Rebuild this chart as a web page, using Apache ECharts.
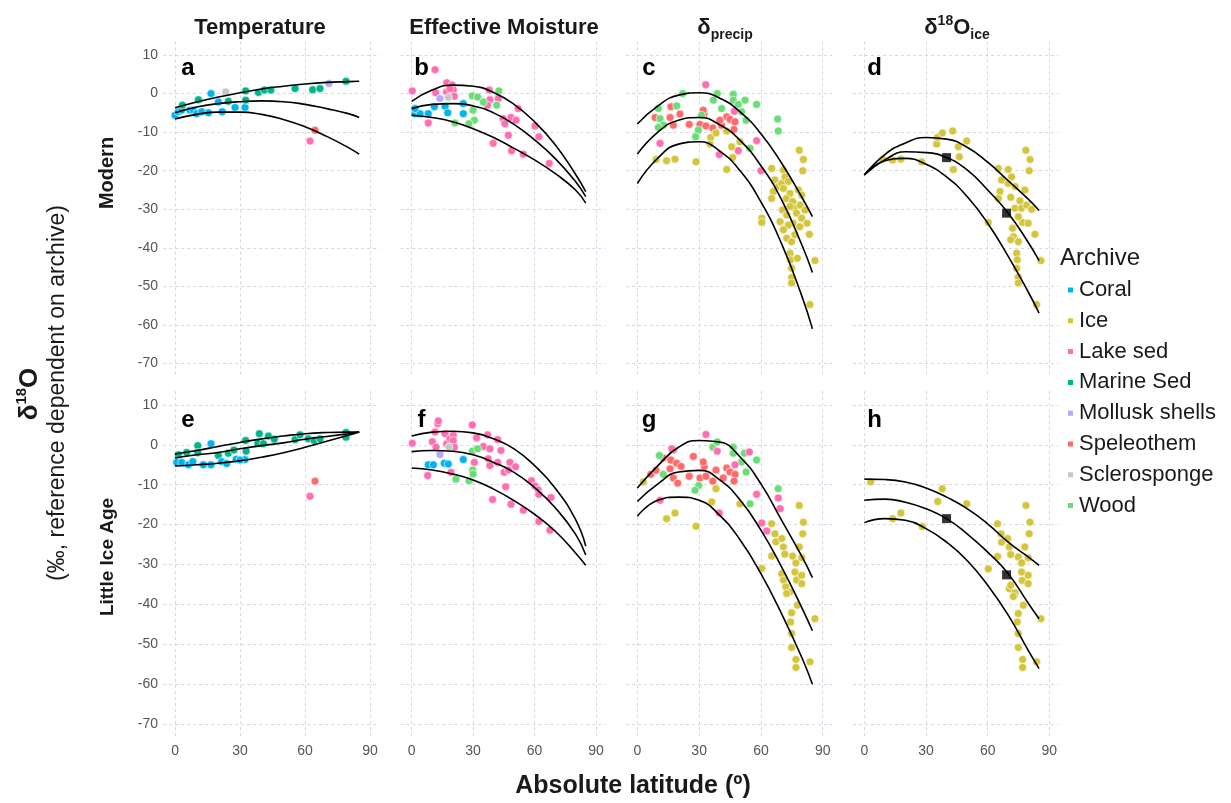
<!DOCTYPE html>
<html>
<head>
<meta charset="utf-8">
<script src="https://cdn.jsdelivr.net/npm/echarts@6/dist/echarts.min.js"></script>
<style>
html, body { margin: 0; padding: 0; background: #fff; }
#chart { width: 1231px; height: 803px; }
</style>
</head>
<body>
<div id="chart"></div>
<script>
// archives, in legend order, and their colours
const archives = ['Coral', 'Ice', 'Lake sed', 'Marine Sed', 'Mollusk shells', 'Speleothem', 'Sclerosponge', 'Wood'];
const archiveColors = ['#00b4f0', '#d4c63c', '#ff6eb0', '#00b48c', '#b9a6fa', '#ff6b6b', '#c6c6c6', '#6adc78'];

const panelLetters = ['a', 'b', 'c', 'd', 'e', 'f', 'g', 'h'];
const latTicks = [0, 30, 60, 90];
const d18OTicks = [-70, -60, -50, -40, -30, -20, -10, 0, 10];

const fitLat = [0, 10, 20, 30, 40, 50, 60, 70, 80, 85];

// a - Temperature, Modern
const ptsA = [
  ['Coral', [[0,-5.6],[1.5,-4.7],[3,-4.3],[6.9,-4.3],[8.5,-4.3],[10,-5.2],[12.3,-4.7],[15.4,-5],[16.6,0],[20,-2.2],[21.8,-4.7],[27.7,-3.6],[32.3,-3.6]]],
  ['Marine Sed', [[3.4,-3],[10.8,-1.6],[24.6,-2],[32.6,0.7],[32.6,-1.7],[38.5,0.3],[41.2,0.9],[44.2,0.9],[55.4,1.3],[63.5,1],[66.9,1.3],[78.9,3.2]]],
  ['Sclerosponge', [[23.4,0.4]]],
  ['Mollusk shells', [[71,2.6]]],
  ['Speleothem', [[64.6,-9.5]]],
  ['Lake sed', [[62.3,-12.3]]]
];
const fitA = [
  [-3.7,-2.2,-0.9,0.2,1.2,1.9,2.5,2.9,3.1,3.2],
  [-5.0,-3.5,-2.6,-2.1,-1.9,-2.1,-2.8,-3.9,-5.2,-6.2],
  [-6.6,-5.4,-4.8,-4.8,-5.4,-6.7,-8.6,-11.1,-14.0,-15.7]
];

// b - Effective Moisture, Modern
const ptsB = [
  ['Lake sed', [[11.4,6.2],[0.3,0.7],[11.7,0.2],[17.1,2.8],[19.8,2.2],[17,0.4],[20.3,1.0],[20.8,-0.7],[18.7,1.3],[8.1,-7.6],[37.9,0.9],[38.2,-1.6],[37,-3],[42.3,-1.3],[39.8,-12.9],[44.7,-6.5],[48.5,-6.2],[51,-6.9],[52,-3.9],[47.2,-10.8],[48.8,-14.8],[54.5,-15.7],[60.2,-8.4],[62.1,-11.2],[67.2,-18.1],[45.5,-7.8]]],
  ['Coral', [[1.6,-5.2],[4.1,-5.2],[8.1,-5.2],[11.1,-3.4],[16.3,-3.3],[17.6,-5],[25.2,-2.6],[25.2,-5.2],[1.6,-3.9]]],
  ['Mollusk shells', [[13.8,-1.3]]],
  ['Sclerosponge', [[17.9,-1.0]]],
  ['Wood', [[29.6,-0.6],[32.2,-0.9],[35,-2.2],[42.6,0.7],[41.5,-3],[30.6,-6.9],[28,-7.8],[21.1,-7.6],[30,-4.3]]]
];
const fitB = [
  [-2.0,0.9,2.2,1.9,0.3,-2.8,-7.3,-13.2,-20.9,-25.4],
  [-3.9,-2.8,-2.6,-3.2,-5.0,-8.0,-12.0,-16.8,-22.8,-26.7],
  [-5.6,-6.2,-7.3,-9.1,-11.4,-14.2,-17.2,-20.7,-25.0,-28.4]
];

// c - delta precip, Modern
const ptsC = [
  ['Speleothem', [[8.6,-6.2],[16.3,-3.4],[15.9,-6.2],[17.5,-8.2],[20.7,-5.3],[25.2,-8],[30.4,-8],[32.4,-5.3],[32,-4.3],[33.3,-8.4],[36.6,-8.9],[40.9,-8.2],[43.4,-6],[45,-6.7],[47.4,-7.3],[46.9,-9.3],[40.1,-6.9]]],
  ['Wood', [[10.2,-3.9],[11,-6.5],[12.6,-8.2],[10.2,-8.8],[19.1,-3.2],[22,0],[38.8,0],[36.9,-1.7],[40.9,-3.9],[46.6,-0.2],[46.6,-1.7],[49,-2.8],[52.3,-1.7],[57.9,-2.8],[52.8,-6.9],[50.6,-4.7],[54.7,-14.2],[68.1,-6.6],[68.4,-9.7],[29.6,-9.5],[28.3,-11.2],[31.2,-5.6]]],
  ['Lake sed', [[33.2,2.3],[47.1,-4.6],[11,-12.9],[39.8,-15.8],[49,-14.8],[57.9,-12.2],[60,-20]]],
  ['Ice', [[9.1,-17.1],[14.2,-17.4],[18.3,-17],[28.5,-17.7],[35.6,-11.4],[38.2,-10.2],[43.4,-9.7],[45.8,-13.8],[46.3,-16.6],[43.4,-19.7],[35.3,-13.1],[49.8,-12.5],[60.4,-32.3],[60.4,-33.4],[65.2,-19.4],[66.8,-22.4],[66,-25.4],[65.2,-27.2],[68.4,-24.1],[70.1,-23.3],[70.9,-19.8],[71.7,-21.6],[73.3,-22.8],[70.9,-24.6],[74.1,-25.9],[72.3,-27.2],[75.4,-28],[70.5,-30.2],[72.5,-31.5],[76.5,-29.7],[78.2,-25],[79.8,-26.3],[79,-28.9],[81.4,-30.2],[77.3,-31],[79.8,-32.3],[82.4,-33.6],[75.7,-33.6],[73.3,-34.1],[70.9,-35.3],[72.5,-37.5],[74.9,-38.4],[76.5,-36.6],[78.9,-34.5],[83.5,-36.5],[78.6,-14.7],[80.6,-17.1],[80.3,-20],[86.2,-43.3],[74.1,-41.4],[74.4,-43.1],[74.9,-45.3],[74.9,-47.7],[74.9,-49.1],[83.8,-54.7],[77.7,-42.7],[69.3,-33.2],[74.1,-29.3]]]
];
const fitC = [
  [-7.9,-3.2,-0.4,0.2,-1.2,-4.8,-10.4,-18.0,-27.0,-31.9],
  [-15.7,-10.0,-6.9,-6.2,-8.1,-12.2,-18.7,-27.5,-39.4,-46.4],
  [-23.3,-16.7,-13.1,-12.5,-14.9,-20.1,-28.1,-38.9,-52.7,-61.0]
];

// d - delta18O ice, Modern
const ptsD = [
  ['Ice', [[8.9,-17],[13.8,-17.2],[17.8,-17],[27.9,-17.7],[35.2,-13.1],[35.5,-11.4],[38,-10.2],[43,-9.7],[45.7,-13.8],[46.2,-16.4],[43.3,-19.7],[49.8,-12.3],[60.3,-33.4],[65.2,-19.4],[66.8,-22.4],[66,-25.4],[65.2,-27.2],[70,-19.7],[71.6,-21.6],[70,-23.3],[73.3,-24.1],[71.2,-26.9],[75.7,-27.8],[73.3,-29.7],[76.5,-29.7],[79,-28.9],[81.4,-30],[78.1,-25],[77,-33.4],[79.7,-33.6],[74.9,-31.9],[72.1,-34.9],[72.5,-37.1],[74.9,-38.4],[71.2,-37.9],[83,-36.5],[78.6,-14.7],[80.6,-17.1],[80.2,-20],[85.9,-43.3],[74.1,-41.4],[74.4,-43.1],[74.9,-47.6],[74.9,-49.1],[83.8,-54.7],[74.1,-45.3]]]
];
const fitD = [
  [-21.1,-15.8,-12.8,-11.4,-11.8,-13.9,-17.8,-22.6,-27.5,-30.3],
  [-21.1,-17.2,-15.1,-15.3,-16.6,-19.8,-25.0,-31.0,-38.8,-43.3],
  [-21.1,-17.4,-16.8,-18.3,-21.6,-26.7,-33.6,-42.2,-51.7,-56.9]
];
const squaresD = [[40,-16.6],[69.2,-31]];

// e - Temperature, Little Ice Age
const ptsE = [
  ['Marine Sed', [[1.5,-2.5],[5.4,-1.9],[10.5,-0.2],[10.5,-1.9],[20,-2.7],[24.6,-2.1],[27.2,-1.3],[32.6,1.1],[32.8,-1.6],[38.2,0.4],[38.9,2.8],[40.8,0.3],[43.1,2.2],[45.8,1.4],[55.4,1.3],[57.7,2.5],[61.5,1.5],[64.2,1.1],[66.9,1.5],[78.9,3.1],[78.9,1.9]]],
  ['Coral', [[0.8,-4.4],[3.1,-4.4],[6.2,-5],[8.2,-4.2],[13.1,-5],[16.6,-5],[16.6,0.3],[21.5,-4.2],[23.8,-4.7],[28.2,-3.6],[32.3,-3.7],[30,-3.8]]],
  ['Speleothem', [[64.6,-9.1]]],
  ['Lake sed', [[62.3,-12.9]]]
];
const fitE = [
  [-2.3,-1.4,-0.4,0.6,1.5,2.2,2.8,3.1,3.2,3.2],
  [-3.3,-2.5,-1.9,-1.0,-0.2,0.5,1.4,2.1,2.8,3.2],
  [-5.3,-5.0,-4.6,-4.0,-3.1,-2.0,-0.6,0.9,2.4,3.2]
];

// f - Effective Moisture, Little Ice Age
const ptsF = [
  ['Lake sed', [[0.3,0.4],[7.8,-7.7],[10.1,0.8],[11.4,3.2],[12.7,5.3],[13,6],[16.3,2.8],[17.1,0.3],[18.7,1.5],[20.3,2.4],[20.3,1.1],[20.8,-0.6],[19.2,-6.9],[11.9,-0.6],[29.6,5],[31.7,1.8],[35,-0.4],[37.1,2.5],[38.2,-1],[37.4,-3.5],[38.2,-5.2],[42,1.3],[42,-4.4],[43.6,-1.4],[30.6,-4.4],[48,-4.4],[50.7,-5.5],[45.2,-6.9],[47.2,-6.3],[45.9,-10.5],[39.5,-13.7],[48.5,-14.9],[54.5,-16.4],[58.5,-9],[60.2,-10.3],[61.8,-11.3],[62.1,-12.4],[68,-13.2],[62.1,-19.2],[67.5,-21.4]]],
  ['Mollusk shells', [[13.8,-2.4]]],
  ['Sclerosponge', [[18.2,-0.6]]],
  ['Coral', [[8.1,-5],[10.6,-5],[15.9,-4.6],[17.9,-4.8],[25.2,-3.7]]],
  ['Wood', [[29.6,-1.6],[32.2,-1],[29.8,-6.3],[30,-7.3],[21.6,-8.6],[28,-9]]]
];
const fitF = [
  [2.2,3.2,3.4,3.0,1.5,-1.0,-5.2,-10.8,-18.7,-25.4],
  [-1.7,-1.4,-1.6,-2.5,-4.4,-6.9,-10.7,-15.7,-22.4,-27.6],
  [-5.8,-6.3,-7.3,-8.8,-11.1,-14.0,-17.4,-21.6,-27.1,-30.2]
];

// g - delta precip, Little Ice Age
const ptsG = [
  ['Speleothem', [[6.5,-7.4],[9.1,-6.4],[12.6,-3.3],[17.5,-1.3],[16.2,-3.8],[19.1,-4.6],[15.9,-6],[17.5,-8.3],[19.6,-9.6],[25.2,-7.9],[27.2,-2.9],[30.4,-8.3],[32.5,-5.4],[33.3,-7.9],[36.6,-9.1],[38.2,-6.3],[41.7,-8.3],[43.4,-5.8],[45,-6.8],[47.4,-7.4],[46.9,-9.1],[21.2,-5.4],[32,-4.3]]],
  ['Wood', [[10.7,-2.7],[12.6,-7.4],[36.6,-0.6],[38.8,0.7],[46.6,-0.6],[46.6,-2.1],[50.6,-4.3],[52.8,-6.8],[52,-2.1],[57.9,-3.8],[29.8,-10.2],[28,-11.4],[68.4,-11],[54.7,-14.8]]],
  ['Lake sed', [[33.3,2.6],[38.8,-1.6],[47.4,-5],[54.4,-1.8],[11,-13.9],[39.8,-17.1],[57.9,-12.4],[68.4,-13.3],[69.3,-16],[60.4,-19.6],[62.8,-21.6],[16.7,-1]]],
  ['Ice', [[2.9,-9.3],[14.2,-18.5],[18.3,-17.1],[28.5,-20.4],[36.1,-14.3],[38.2,-11],[49.8,-14.8],[65.2,-19.8],[66.8,-22.3],[67.3,-24.3],[65.2,-27.9],[70.1,-23.5],[70.9,-25.6],[71.6,-27.4],[75.4,-27.9],[77,-29.6],[79.8,-28.3],[78.6,-25.6],[78.6,-15.2],[80.6,-19.4],[80.3,-22.3],[60.4,-31],[70.1,-32.3],[70.9,-33.9],[72.1,-35.6],[74.1,-36.9],[76.5,-31.9],[77.3,-33.9],[79.8,-34.8],[79.8,-32.7],[77.7,-40.2],[74.9,-42.1],[74.4,-44.4],[74.9,-47.3],[74.9,-50.8],[77,-53.8],[77,-55.8],[83.8,-54.4],[86.2,-43.6],[72.5,-37.3]]]
];
const fitG = [
  [-10.8,-5.2,-0.6,1.1,0.7,-3.1,-9.8,-18.9,-28.1,-33.3],
  [-14.2,-9.8,-6.8,-6.4,-8.8,-13.9,-21.4,-30.6,-41.0,-46.6],
  [-17.9,-13.9,-13.1,-13.9,-17.7,-23.9,-32.3,-42.3,-53.5,-60.0]
];

// h - delta18O ice, Little Ice Age
const ptsH = [
  ['Ice', [[3.1,-9.3],[13.8,-18.5],[17.8,-17.1],[28.2,-20.5],[35.7,-14.2],[37.9,-11],[49.8,-14.8],[60.3,-31.1],[64.8,-19.8],[66.5,-22.3],[66.8,-24.4],[64.8,-28],[69.7,-23.5],[70.5,-25.6],[71.2,-27.5],[74.9,-28.1],[76.5,-29.6],[79.7,-28.3],[78.1,-25.6],[78.6,-15.2],[80.6,-19.4],[80.2,-22.3],[70.5,-36.1],[71.2,-35.2],[73.3,-37.1],[76.5,-31.9],[76.8,-34],[79.7,-34.8],[79.7,-32.7],[77.3,-40.2],[74.9,-42.3],[74.4,-44.4],[74.9,-47.3],[74.9,-50.8],[77,-53.8],[77,-55.8],[83.8,-54.4],[85.9,-43.6],[72.5,-38]]]
];
const fitH = [
  [-8.6,-8.7,-9.3,-10.8,-13.1,-16.0,-19.8,-24.4,-28.2,-30.2],
  [-13.9,-13.6,-14.4,-16.0,-18.5,-22.3,-26.9,-32.3,-39.9,-43.6],
  [-19.5,-18.5,-18.9,-21.0,-24.4,-29.0,-35.2,-42.7,-51.8,-56.1]
];
const squaresH = [[40,-18.5],[69.2,-32.6]];

const panels = [
  { pts: ptsA, fit: fitA }, { pts: ptsB, fit: fitB }, { pts: ptsC, fit: fitC }, { pts: ptsD, fit: fitD, squares: squaresD },
  { pts: ptsE, fit: fitE }, { pts: ptsF, fit: fitF }, { pts: ptsG, fit: fitG }, { pts: ptsH, fit: fitH, squares: squaresH }
];

// panel layout in pixels
const colLeft = [163.1, 400.4, 626, 853];
const colWidth = [216.7, 204.8, 206, 205.6];
const rowTop = [41.5, 391];
const rowHeight = [335.6, 347];
const letterX = [188, 421.5, 649, 874.5];
const letterY = [68, 420];

const font = 'Liberation Sans, Arial, Helvetica, sans-serif';
const gridColor = '#d6d6e4';

const grid = [], xAxis = [], yAxis = [], series = [];
panels.forEach(function (p, i) {
  const row = Math.floor(i / 4), col = i % 4;
  grid.push({ left: colLeft[col], top: rowTop[row], width: colWidth[col], height: rowHeight[row], outerBoundsMode: 'none' });
  xAxis.push({
    gridIndex: i, type: 'value', min: -5.5, max: 94.5,
    axisLine: { show: false },
    axisTick: { show: false, customValues: latTicks },
    axisLabel: { show: row === 1, customValues: latTicks, color: '#555', fontSize: 14, fontFamily: font, margin: 6 },
    splitLine: { show: true, lineStyle: { color: gridColor, type: [3, 3], width: 1 } }
  });
  yAxis.push({
    gridIndex: i, type: 'value', min: -73.5, max: 13.5,
    axisLine: { show: false },
    axisTick: { show: false, customValues: d18OTicks },
    axisLabel: { show: col === 0, customValues: d18OTicks, color: '#555', fontSize: 14, fontFamily: font, margin: 5 },
    splitLine: { show: true, lineStyle: { color: gridColor, type: [3, 3], width: 1 } }
  });
  p.pts.forEach(function (g) {
    series.push({
      name: g[0], type: 'scatter', xAxisIndex: i, yAxisIndex: i, data: g[1],
      symbolSize: 8, z: 2,
      itemStyle: { color: archiveColors[archives.indexOf(g[0])], borderColor: '#fff', borderWidth: 0.6, opacity: 1 }
    });
  });
  p.fit.forEach(function (vals) {
    series.push({
      type: 'line', xAxisIndex: i, yAxisIndex: i, silent: true, z: 3,
      data: fitLat.map(function (lat, k) { return [lat, vals[k]]; }),
      smooth: true, showSymbol: false, symbol: 'none',
      lineStyle: { color: '#000', width: 1.6 }
    });
  });
  if (p.squares) {
    series.push({
      type: 'scatter', xAxisIndex: i, yAxisIndex: i, data: p.squares, z: 4,
      symbol: 'rect', symbolSize: 9, itemStyle: { color: '#000' }
    });
  }
});

function label(x, y, text, style, rot) {
  return {
    type: 'text', x: x, y: y, rotation: rot || 0, silent: true,
    style: Object.assign({ text: text, fill: '#1a1a1a', fontFamily: font, align: 'center', verticalAlign: 'middle' }, style)
  };
}

const bold22 = { fontSize: 22, fontWeight: 'bold' };
const graphic = [
  label(260, 28, 'Temperature', bold22),
  label(504, 28, 'Effective Moisture', bold22),
  label(725, 28, '{m|δ}{sub|precip}', { rich: {
    m: { fontSize: 22, fontWeight: 'bold', lineHeight: 28, verticalAlign: 'middle', fontFamily: font, fill: '#1a1a1a' },
    sub: { fontSize: 14, fontWeight: 'bold', lineHeight: 14, verticalAlign: 'bottom', fontFamily: font, fill: '#1a1a1a' } } }),
  label(957, 28, '{m|δ}{sup|18}{m|O}{sub|ice}', { rich: {
    m: { fontSize: 22, fontWeight: 'bold', lineHeight: 28, verticalAlign: 'middle', fontFamily: font, fill: '#1a1a1a' },
    sup: { fontSize: 14, fontWeight: 'bold', lineHeight: 14, verticalAlign: 'top', fontFamily: font, fill: '#1a1a1a' },
    sub: { fontSize: 14, fontWeight: 'bold', lineHeight: 14, verticalAlign: 'bottom', fontFamily: font, fill: '#1a1a1a' } } }),
  label(107, 173, 'Modern', { fontSize: 20, fontWeight: 'bold' }, Math.PI / 2),
  label(108, 557, 'Little Ice Age', { fontSize: 19, fontWeight: 'bold' }, Math.PI / 2),
  label(30, 394, '{m|δ}{sup|18}{m|O}', { rich: {
    m: { fontSize: 26, fontWeight: 'bold', lineHeight: 32, verticalAlign: 'middle', fontFamily: font, fill: '#1a1a1a' },
    sup: { fontSize: 15, fontWeight: 'bold', lineHeight: 16, verticalAlign: 'top', fontFamily: font, fill: '#1a1a1a' } } }, Math.PI / 2),
  label(58, 393, '(‰, reference dependent on archive)', { fontSize: 23 }, Math.PI / 2),
  label(633, 786, 'Absolute latitude (º)', { fontSize: 25, fontWeight: 'bold' }),
  label(1060, 258, 'Archive', { fontSize: 24, align: 'left' })
];
panelLetters.forEach(function (l, i) {
  graphic.push(label(letterX[i % 4], letterY[Math.floor(i / 4)], l, { fontSize: 24, fontWeight: 900, fill: '#000' }));
});

const chart = echarts.init(document.getElementById('chart'));
chart.setOption({
  animation: false,
  backgroundColor: '#fff',
  grid: grid,
  xAxis: xAxis,
  yAxis: yAxis,
  legend: {
    data: archives, orient: 'vertical', left: 1061, top: 274,
    icon: 'rect', itemWidth: 7, itemHeight: 7, itemGap: 8.8,
    selectedMode: false,
    textStyle: { fontSize: 22, lineHeight: 22, color: '#1a1a1a', fontFamily: font }
  },
  graphic: graphic,
  series: series
});
</script>
</body>
</html>
